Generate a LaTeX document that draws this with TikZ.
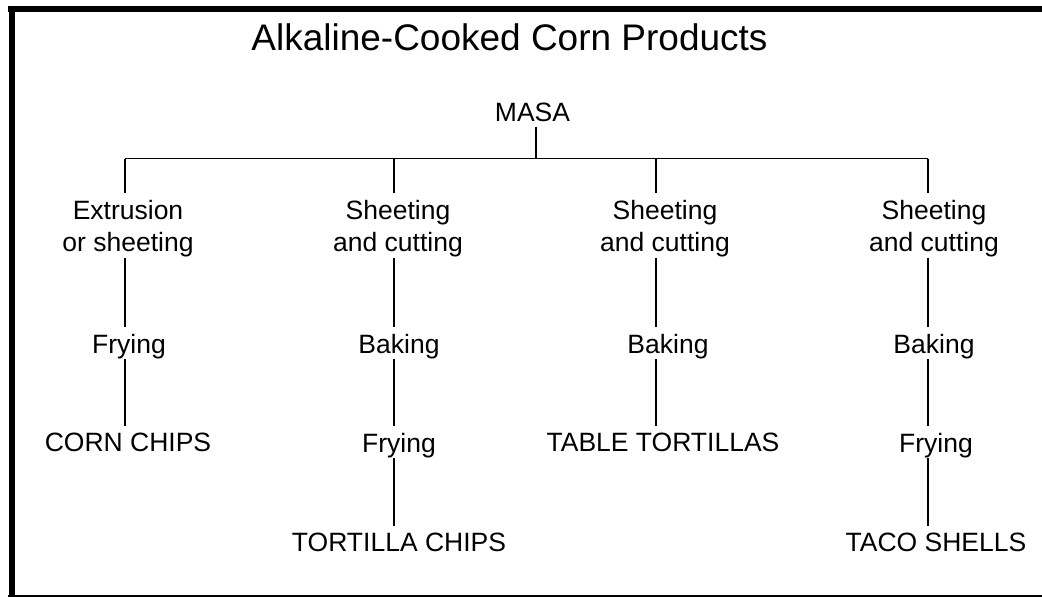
\documentclass[tikz,border=0pt]{standalone}
\usepackage{fontspec}
\setmainfont{Liberation Sans}
\begin{document}
\begin{tikzpicture}[x=1pt,y=-1pt,
  stage/.style={inner sep=0pt,anchor=north,align=center,font=\fontsize{26.5}{32.5}\selectfont},
  link/.style={line width=1.5pt,shorten >=7pt}]
\useasboundingbox (0,0) rectangle (1042,597);
% frame
\draw[line width=6pt] (8,9)--(1042,9);
\draw[line width=6pt] (12,6)--(12,597);
\draw[line width=2pt] (8,595.5)--(1042,595.5);

\node[inner sep=0pt,anchor=north,font=\fontsize{37}{44}\selectfont] (title) at (509.5,23) {Alkaline-Cooked Corn Products};
\node[stage] (masa) at (532.5,103) {MASA};

\coordinate (hub) at (536,158.5);
\coordinate (c1) at (125,158.5);
\coordinate (c2) at (394,158.5);
\coordinate (c3) at (656,158.5);
\coordinate (c4) at (928,158.5);

% first column
\node[stage] (ext) at (128,200) {Extrusion\\or sheeting};
\node[stage] (fry1) at (129,334) {Frying};
\node[stage] (corn) at (128,433) {CORN CHIPS};
% second column
\node[stage] (sc2) at (398,200) {Sheeting\\and cutting};
\node[stage] (bake2) at (399,334) {Baking};
\node[stage] (fry2) at (399,433) {Frying};
\node[stage] (chips) at (399,533) {TORTILLA CHIPS};
% third column
\node[stage] (sc3) at (665,200) {Sheeting\\and cutting};
\node[stage] (bake3) at (668,334) {Baking};
\node[stage] (table) at (663,433) {TABLE TORTILLAS};
% fourth column
\node[stage] (sc4) at (934,200) {Sheeting\\and cutting};
\node[stage] (bake4) at (934,334) {Baking};
\node[stage] (fry4) at (936,433) {Frying};
\node[stage] (taco) at (936,533) {TACO SHELLS};

\draw[line width=1.5pt] (c1)--(c4);
\draw[line width=1.5pt,shorten <=5pt] (masa.south -| hub)--(hub);
\foreach \c/\n in {c1/ext,c2/sc2,c3/sc3,c4/sc4}
  \draw[link] (\c)--(\c |- \n.north);

\draw[link] (ext.south -| c1)--(fry1.north -| c1);
\draw[link] (fry1.south -| c1)--(corn.north -| c1);
\draw[link] (sc2.south -| c2)--(bake2.north -| c2);
\draw[link] (bake2.south -| c2)--(fry2.north -| c2);
\draw[link] (fry2.south -| c2)--(chips.north -| c2);
\draw[link] (sc3.south -| c3)--(bake3.north -| c3);
\draw[link] (bake3.south -| c3)--(table.north -| c3);
\draw[link] (sc4.south -| c4)--(bake4.north -| c4);
\draw[link] (bake4.south -| c4)--(fry4.north -| c4);
\draw[link] (fry4.south -| c4)--(taco.north -| c4);
\end{tikzpicture}
\end{document}
